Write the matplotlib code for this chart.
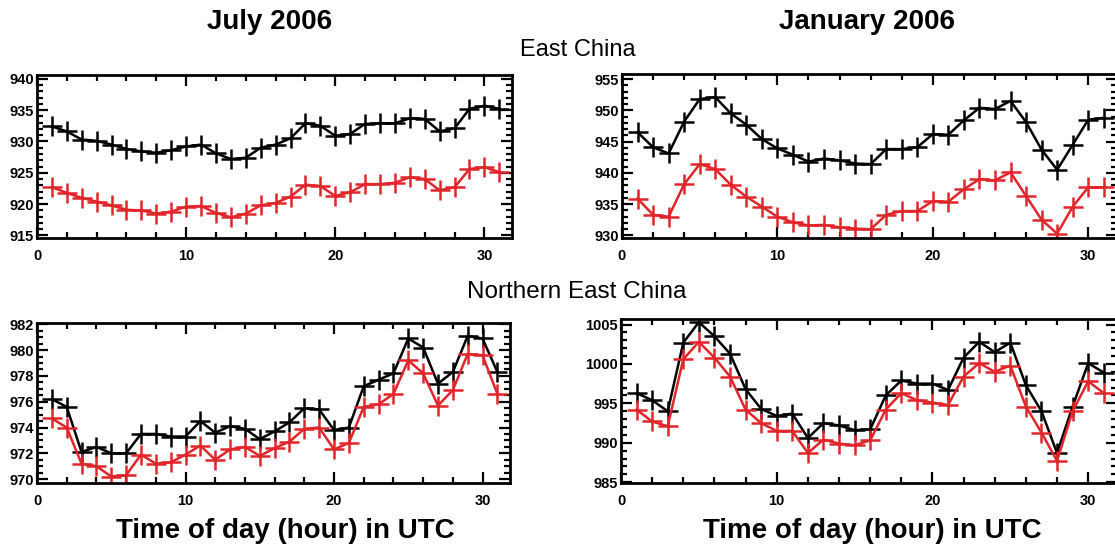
import numpy as np
import matplotlib
matplotlib.use("Agg")
import matplotlib.pyplot as plt
from matplotlib.ticker import MultipleLocator

plt.rcParams['font.family'] = ['Liberation Sans', 'DejaVu Sans']

# Day index on the x axis
days = np.arange(1, 32)

# July 2006, East China
jul_east_black = [932.4, 931.6, 930.3, 930.1, 929.5, 928.8, 928.4, 928.2, 928.6, 929.2,
                  929.5, 928.1, 927.2, 927.4, 929.0, 929.5, 930.5, 932.9, 932.5, 930.9,
                  931.2, 932.8, 932.9, 932.9, 933.7, 933.6, 931.6, 932.1, 935.2, 935.7, 935.2]
jul_east_red = [922.7, 921.8, 921.0, 920.4, 919.8, 919.1, 919.0, 918.5, 918.8, 919.6,
                919.7, 918.6, 917.9, 918.5, 919.8, 920.2, 921.2, 923.1, 922.9, 921.3,
                921.9, 923.2, 923.2, 923.4, 924.3, 924.0, 922.2, 922.7, 925.6, 925.9, 925.1]

# January 2006, East China
jan_east_black = [946.5, 944.1, 943.1, 948.2, 951.8, 952.1, 949.5, 947.7, 945.4, 943.9,
                  942.9, 941.8, 942.3, 942.0, 941.5, 941.4, 943.8, 943.8, 944.1, 946.2,
                  946.1, 948.4, 950.4, 950.2, 951.5, 948.1, 943.7, 940.5, 944.5, 948.5, 948.8]
jan_east_red = [935.9, 933.3, 933.0, 938.2, 941.4, 940.6, 938.1, 936.2, 934.6, 933.0,
                932.1, 931.6, 931.7, 931.3, 931.1, 931.0, 933.3, 933.9, 933.9, 935.5,
                935.4, 937.4, 939.0, 938.8, 940.1, 936.3, 932.5, 930.3, 934.6, 937.7, 937.7]

# July 2006, Northern East China
jul_north_black = [976.2, 975.6, 972.1, 972.5, 972.0, 972.0, 973.5, 973.5, 973.3, 973.3,
                   974.5, 973.6, 974.1, 973.9, 973.1, 973.7, 974.4, 975.5, 975.4, 973.8,
                   974.0, 977.2, 977.7, 978.2, 980.9, 980.2, 977.4, 978.3, 981.1, 980.9, 978.3]
jul_north_red = [974.7, 974.0, 971.2, 971.0, 970.2, 970.3, 971.9, 971.2, 971.3, 971.9,
                 972.6, 971.5, 972.3, 972.5, 971.8, 972.4, 972.9, 973.9, 974.0, 972.3,
                 972.8, 975.6, 975.8, 976.6, 979.2, 978.2, 975.7, 976.9, 979.7, 979.6, 976.6]

# January 2006, Northern East China
jan_north_black = [996.3, 995.4, 994.0, 1002.7, 1005.3, 1003.5, 1001.3, 996.8, 994.3, 993.4,
                   993.7, 990.6, 992.5, 992.2, 991.6, 991.7, 996.0, 997.9, 997.5, 997.5,
                   996.7, 1000.8, 1002.8, 1001.5, 1002.7, 997.3, 994.0, 988.7, 994.6, 1000.1, 998.9]
jan_north_red = [994.2, 992.7, 992.1, 1000.6, 1002.8, 1000.8, 998.4, 994.2, 992.5, 991.5,
                 991.5, 988.7, 990.4, 989.9, 989.7, 990.3, 994.2, 996.3, 995.4, 995.1,
                 994.8, 998.4, 1000.1, 999.0, 999.8, 994.6, 991.3, 987.7, 994.0, 997.8, 996.3]

RED = '#e0262b'

W, H = 1115, 553
fig = plt.figure(figsize=(W / 100, H / 100), dpi=100)


def px_axes(left, top, right, bottom):
    return fig.add_axes([left / W, 1 - bottom / H, (right - left) / W, (bottom - top) / H])


def style(ax, ylim, ymaj, ymin):
    ax.set_xlim(0, 31.85)
    ax.set_ylim(*ylim)
    ax.xaxis.set_major_locator(MultipleLocator(10))
    ax.xaxis.set_minor_locator(MultipleLocator(2))
    ax.yaxis.set_major_locator(MultipleLocator(ymaj))
    ax.yaxis.set_minor_locator(MultipleLocator(ymin))
    ax.tick_params(which='both', direction='in', top=True, right=True, width=1.6)
    ax.tick_params(which='major', length=8)
    ax.tick_params(which='minor', length=4)
    ax.tick_params(axis='y', pad=2, labelsize=10.5)
    ax.tick_params(axis='x', pad=8, labelsize=10.5)
    for lab in ax.get_xticklabels() + ax.get_yticklabels():
        lab.set_fontweight('bold')
    for sp in ax.spines.values():
        sp.set_linewidth(2)


def draw(ax, black, red):
    ax.plot(days, black, color='black', lw=1.8, marker='+', ms=14, mew=1.8)
    ax.plot(days, red, color=RED, lw=1.8, marker='+', ms=14, mew=1.8)


ax1 = px_axes(37, 75, 512, 238)
draw(ax1, jul_east_black, jul_east_red)
style(ax1, (914.6, 940.6), 5, 1)

ax2 = px_axes(622, 74, 1117, 238)
draw(ax2, jan_east_black, jan_east_red)
style(ax2, (929.6, 955.8), 5, 1)

ax3 = px_axes(37, 323, 510, 483)
draw(ax3, jul_north_black, jul_north_red)
style(ax3, (969.7, 982.1), 2, 0.5)

ax4 = px_axes(621, 319, 1117, 483)
draw(ax4, jan_north_black, jan_north_red)
style(ax4, (984.9, 1005.7), 5, 1)

fig.text(270 / W, 1 - 22 / H, 'July 2006', ha='center', va='center', fontsize=20, fontweight='bold')
fig.text(867 / W, 1 - 22 / H, 'January 2006', ha='center', va='center', fontsize=20, fontweight='bold')
fig.text(578 / W, 1 - 50 / H, 'East China', ha='center', va='center', fontsize=17)
fig.text(577 / W, 1 - 292 / H, 'Northern East China', ha='center', va='center', fontsize=17.5)
fig.text(285 / W, 1 - 531 / H, 'Time of day (hour) in UTC', ha='center', va='center', fontsize=20, fontweight='bold')
fig.text(872 / W, 1 - 531 / H, 'Time of day (hour) in UTC', ha='center', va='center', fontsize=20, fontweight='bold')

fig.savefig('out.png', dpi=100)
